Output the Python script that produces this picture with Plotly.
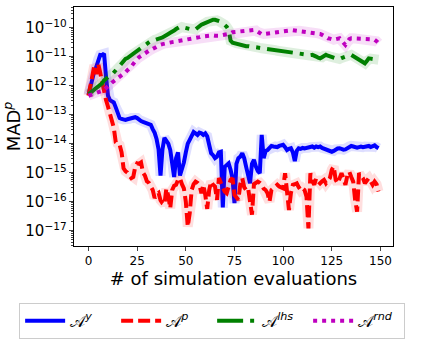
import plotly.graph_objects as go

# number of simulation evaluations (x axis)
evals = list(range(150))

# log10 of MAD^p for each strategy
log_mad_y = [
    -12.32, -12.0, -11.7, -11.5, -11.35, -11.1, -10.94, -10.95, -10.9, -11.7,
    -12.35, -12.5, -12.55, -12.58, -12.75, -12.95, -13.12, -13.15, -13.17, -13.18,
    -13.16, -13.15, -13.12, -13.1, -13.09, -13.12, -13.18, -13.22, -13.25, -13.28,
    -13.3, -13.32, -13.35, -13.5, -13.63, -13.85, -14.2, -15.1, -14.2, -13.8,
    -13.9, -14.0, -14.22, -14.6, -15.15, -14.5, -14.3, -15.1, -14.9, -14.65,
    -14.3, -14.0, -13.87, -13.7, -13.6, -13.65, -13.7, -13.62, -13.64, -13.7,
    -13.65, -13.75, -14.05, -14.33, -14.4, -14.5, -14.45, -14.3, -14.28, -16.2,
    -14.8, -14.75, -14.68, -14.9, -15.2, -16.05, -14.7, -14.5, -14.45, -14.33,
    -14.5, -14.8, -15.1, -15.37, -14.7, -14.56, -14.79, -14.95, -15.02, -13.7,
    -14.5, -14.25, -14.22, -14.12, -14.08, -14.1, -14.1, -14.12, -14.08, -14.05,
    -14.04, -14.12, -14.22, -14.18, -14.16, -14.3, -14.6, -14.25, -14.16, -14.18,
    -14.15, -14.17, -14.16, -14.14, -14.12, -14.1, -14.14, -14.1, -14.12, -14.1,
    -14.15, -14.18, -14.22, -14.24, -14.27, -14.28, -14.25, -14.2, -14.17, -14.16,
    -14.19, -14.21, -14.2, -14.15, -14.1, -14.08, -14.1, -14.12, -14.14, -14.12,
    -14.1, -14.12, -14.1, -14.1, -14.08, -14.12, -14.1, -14.06, -14.12, -14.16,
]
log_mad_p = [
    -12.35, -12.0, -11.6, -11.3, -11.6, -11.25, -11.55, -11.9, -12.25, -12.5,
    -12.72, -12.95, -13.15, -13.45, -13.95, -14.0, -14.05, -14.3, -14.85, -14.95,
    -15.0, -15.1, -15.19, -15.15, -14.8, -14.68, -14.7, -14.65, -15.0, -15.1,
    -15.3, -15.35, -15.45, -15.6, -15.88, -15.75, -15.7, -15.95, -16.06, -16.1,
    -15.55, -15.8, -16.23, -15.6, -15.45, -15.42, -15.25, -15.19, -15.4, -15.54,
    -16.0, -16.86, -16.4, -15.6, -15.4, -15.31, -15.35, -15.42, -15.71, -15.42,
    -15.77, -16.25, -15.6, -15.31, -15.42, -15.48, -15.94, -15.19, -15.35, -15.54,
    -15.65, -15.71, -15.4, -15.25, -15.19, -15.77, -15.85, -15.94, -15.4, -15.19,
    -15.5, -15.6, -15.54, -15.9, -16.45, -15.4, -15.37, -15.31, -15.35, -15.42,
    -15.55, -15.6, -15.71, -16.0, -15.6, -15.54, -15.45, -15.42, -15.48, -15.5,
    -15.54, -15.02, -15.6, -16.29, -15.7, -15.42, -15.4, -15.37, -15.5, -15.6,
    -15.54, -15.6, -15.83, -16.92, -15.02, -15.3, -15.42, -15.19, -15.3, -15.37,
    -15.3, -15.25, -15.37, -15.3, -15.19, -14.9, -14.79, -15.25, -15.37, -15.2,
    -15.02, -15.2, -15.42, -15.1, -14.97, -15.15, -15.31, -15.94, -16.35, -15.02,
    -15.1, -15.19, -15.37, -15.25, -15.19, -15.3, -15.42, -15.31, -15.4, -15.65,
]
log_mad_lhs = [
    -12.3, -12.25, -12.2, -12.15, -12.1, -12.05, -12.0, -11.92, -11.82, -11.75,
    -11.7, -11.66, -11.63, -11.55, -11.48, -11.4, -11.3, -11.2, -11.12, -11.08,
    -11.05, -11.0, -10.95, -10.9, -10.85, -10.8, -10.75, -10.68, -10.62, -10.57,
    -10.52, -10.48, -10.46, -10.45, -10.42, -10.4, -10.38, -10.36, -10.34, -10.31,
    -10.28, -10.22, -10.18, -10.15, -10.1, -10.05, -10.0, -9.97, -9.98, -10.0,
    -10.02, -10.03, -10.05, -10.07, -10.08, -10.06, -10.0, -9.93, -9.9, -9.87,
    -9.84, -9.8, -9.78, -9.75, -9.73, -9.73, -9.75, -9.78, -9.8, -9.85,
    -9.9, -9.97, -10.08, -10.45, -10.52, -10.54, -10.54, -10.55, -10.57, -10.6,
    -10.62, -10.64, -10.64, -10.65, -10.65, -10.66, -10.68, -10.69, -10.7, -10.71,
    -10.71, -10.72, -10.74, -10.75, -10.76, -10.77, -10.78, -10.8, -10.81, -10.82,
    -10.83, -10.84, -10.85, -10.86, -10.87, -10.88, -10.89, -10.9, -10.91, -10.92,
    -10.92, -10.91, -10.93, -10.94, -10.95, -10.94, -10.96, -11.0, -11.04, -11.06,
    -11.02, -10.97, -10.94, -10.97, -11.0, -11.03, -11.05, -11.06, -11.07, -11.08,
    -11.05, -11.02, -11.0, -10.98, -10.95, -10.94, -10.98, -11.03, -11.06, -11.08,
    -11.11, -11.17, -11.23, -11.15, -11.06, -11.07, -11.08, -11.06, -11.09, -11.11,
]
log_mad_rnd = [
    -12.35, -12.33, -12.3, -12.28, -12.26, -12.24, -12.22, -12.18, -12.15, -12.1,
    -12.02, -11.96, -11.9, -11.85, -11.79, -11.74, -11.7, -11.68, -11.62, -11.54,
    -11.47, -11.42, -11.34, -11.25, -11.15, -11.08, -11.02, -10.97, -10.94, -10.9,
    -10.86, -10.8, -10.77, -10.73, -10.68, -10.64, -10.61, -10.59, -10.57, -10.55,
    -10.54, -10.53, -10.52, -10.5, -10.49, -10.48, -10.47, -10.45, -10.44, -10.43,
    -10.42, -10.41, -10.4, -10.38, -10.37, -10.36, -10.35, -10.33, -10.31, -10.3,
    -10.29, -10.29, -10.28, -10.28, -10.27, -10.28, -10.29, -10.28, -10.27, -10.26,
    -10.25, -10.25, -10.24, -10.2, -10.16, -10.15, -10.14, -10.13, -10.12, -10.11,
    -10.11, -10.11, -10.1, -10.09, -10.08, -10.08, -10.1, -10.15, -10.2, -10.23,
    -10.22, -10.21, -10.2, -10.2, -10.2, -10.18, -10.16, -10.15, -10.14, -10.14,
    -10.12, -10.1, -10.09, -10.08, -10.08, -10.09, -10.1, -10.11, -10.11, -10.12,
    -10.12, -10.13, -10.14, -10.14, -10.15, -10.16, -10.18, -10.19, -10.2, -10.22,
    -10.25, -10.3, -10.35, -10.37, -10.38, -10.4, -10.42, -10.4, -10.38, -10.37,
    -10.45, -10.55, -10.6, -10.5, -10.4, -10.37, -10.37, -10.38, -10.37, -10.37,
    -10.37, -10.38, -10.38, -10.39, -10.39, -10.4, -10.41, -10.42, -10.47, -10.54,
]

names = ["𝒜<sup><i>y</i></sup>", "𝒜<sup><i>p</i></sup>",
         "𝒜<sup><i>lhs</i></sup>", "𝒜<sup><i>rnd</i></sup>"]
series = [log_mad_y, log_mad_p, log_mad_lhs, log_mad_rnd]
colors = ["#0000ff", "#ff0000", "#008000", "#bf00bf"]
bands = ["rgba(0,0,255,0.13)", "rgba(255,0,0,0.13)",
         "rgba(0,128,0,0.13)", "rgba(191,0,191,0.13)"]
dashes = ["solid", "12px,5px", "26px,7px,4px,7px", "4px,5px"]

fig = go.Figure()
for name, logs, col, band, dash in zip(names, series, colors, bands, dashes):
    vals = [10 ** v for v in logs]
    # faint spread band behind each curve
    fig.add_trace(go.Scatter(x=evals, y=vals, mode="lines", showlegend=False,
                             hoverinfo="skip", line=dict(color=band, width=10)))
    fig.add_trace(go.Scatter(x=evals, y=vals, mode="lines", name=name,
                             line=dict(color=col, width=4, dash=dash)))

fig.update_layout(
    width=423, height=346,
    margin=dict(l=74, r=30, t=7, b=100),
    paper_bgcolor="white", plot_bgcolor="white",
    font=dict(family="DejaVu Sans", size=12, color="black"),
    legend=dict(orientation="h", x=-0.172, y=-0.238, xanchor="left", yanchor="top",
                bordercolor="#cccccc", borderwidth=1, font=dict(size=16),
                itemwidth=40, entrywidth=41, tracegroupgap=0),
)
fig.update_xaxes(
    range=[-7.45, 156.45], tickvals=[0, 25, 50, 75, 100, 125, 150],
    showline=True, linecolor="black", linewidth=1, mirror=True,
    ticks="outside", ticklen=4, showgrid=False, zeroline=False, automargin=False,
    title=dict(text="# of simulation evaluations", font=dict(size=18), standoff=4),
)
fig.update_yaxes(
    type="log", range=[-17.53, -9.29], dtick=1, exponentformat="power",
    showline=True, linecolor="black", linewidth=1, mirror=True,
    ticks="outside", ticklen=4, showgrid=False, zeroline=False, automargin=False,
    minor=dict(ticks="outside", ticklen=2, dtick="D1", showgrid=False),
    title=dict(text="MAD<sup><i>p</i></sup>", font=dict(size=18), standoff=8),
)

# the page body has a default 8px margin; drop it so the figure fills the window
fig.write_html("out.html", config={"displayModeBar": False},
               post_script="document.body.style.margin='0';")
